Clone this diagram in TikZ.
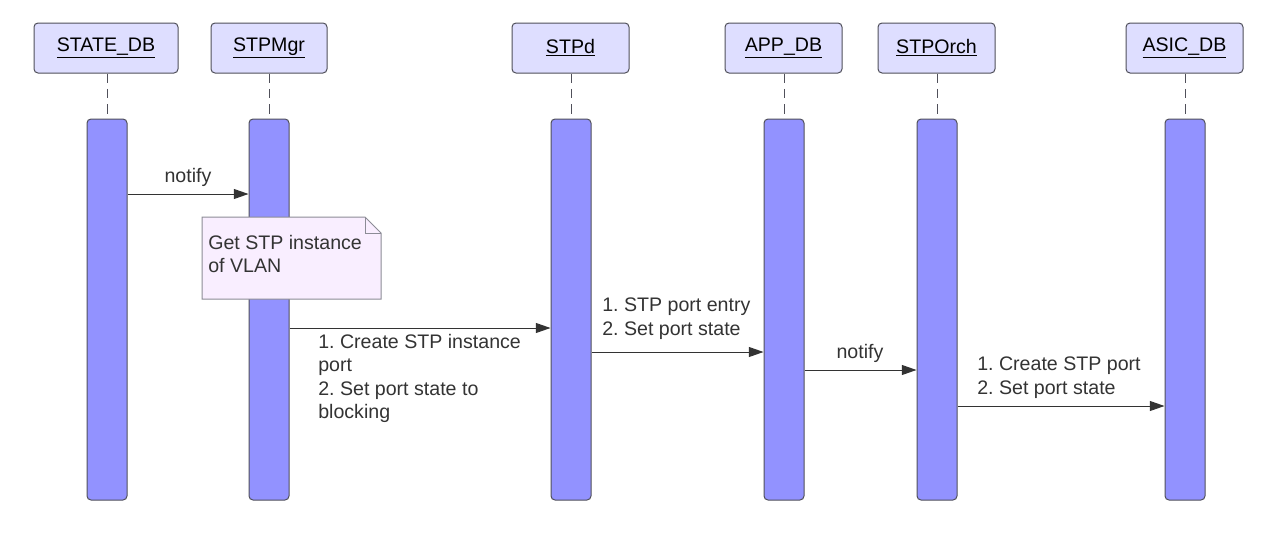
\documentclass[tikz,border=0pt]{standalone}
\usepackage{fontspec}
\setmainfont{Liberation Sans}
\usetikzlibrary{arrows.meta}
\definecolor{hdrfill}{RGB}{222,222,255}
\definecolor{barfill}{RGB}{146,146,255}
\definecolor{notefill}{RGB}{249,238,255}
\definecolor{edgec}{RGB}{80,80,90}
\definecolor{notec}{RGB}{140,140,150}
\definecolor{txtc}{RGB}{51,51,51}
\newcommand\dgfont{\fontsize{14.7pt}{17.6pt}\selectfont}
\frenchspacing
\begin{document}
\begin{tikzpicture}[x=0.75pt,y=-0.75pt,
  hdr/.style={draw=edgec, fill=hdrfill, rounded corners=3pt, minimum width=#1,
    minimum height=37.5pt, inner sep=0pt, line width=0.75pt, font=\dgfont, text=black},
  actbar/.style={draw=edgec, fill=barfill, rounded corners=3pt, minimum width=30pt,
    minimum height=285.75pt, inner sep=0pt, line width=0.75pt},
  life/.style={draw=edgec, line width=0.75pt, dash pattern=on 7pt off 4.5pt},
  msg/.style={draw=txtc, line width=0.7pt, -{Triangle[length=11pt,width=7.5pt]}},
  lbl/.style={font=\dgfont, text=txtc, inner sep=0pt},
  mlbl/.style={font=\dgfont, text=txtc, inner sep=0pt, align=left, anchor=north west},
  notebox/.style={draw=notec, fill=notefill, line width=0.75pt}
]
\useasboundingbox (0,0) rectangle (1282,543);

% headers
\node[hdr=108pt]   (hsd) at (106,48)  {\underline{STATE\_DB}};
\node[hdr=87pt]    (hmg) at (269,48)  {\underline{STPMgr}};
\node[hdr=87.75pt] (hst) at (570.5,48){\underline{STPd}};
\node[hdr=87.75pt] (hap) at (783.5,48){\underline{APP\_DB}};
\node[hdr=87.75pt] (hor) at (936.5,48){\underline{STPOrch}};
\node[hdr=87.75pt] (has) at (1184.5,48){\underline{ASIC\_DB}};

% activation bars
\node[actbar] (bsd) at (107,309.5)  {};
\node[actbar] (bmg) at (269,309.5)  {};
\node[actbar] (bst) at (571,309.5)  {};
\node[actbar] (bap) at (784,309.5)  {};
\node[actbar] (bor) at (937,309.5)  {};
\node[actbar] (bas) at (1185,309.5) {};

% lifelines
\draw[life] (hsd.south -| bsd.north) -- (bsd.north);
\draw[life] (hmg.south -| bmg.north) -- (bmg.north);
\draw[life] (hst.south -| bst.north) -- (bst.north);
\draw[life] (hap.south -| bap.north) -- (bap.north);
\draw[life] (hor.south -| bor.north) -- (bor.north);
\draw[life] (has.south -| bas.north) -- (bas.north);

% note
\coordinate (nA) at (202,217);
\coordinate (nB) at (365,217);
\coordinate (nC) at (381,233);
\coordinate (nD) at (381,299);
\coordinate (nE) at (202,299);
\coordinate (nF) at (365,233);
\draw[notebox] (nA) -- (nB) -- (nC) -- (nD) -- (nE) -- cycle;
\draw[notebox, fill=none] (nB) -- (nF) -- (nC);
\node[mlbl] (ntxt) at (208,235) {Get STP instance\\of VLAN};

% messages
\draw[msg] (bsd.east |- 0,194) -- (bmg.west |- 0,194);
\node[lbl] (m1) at (188,177) {notify};

\draw[msg] (bmg.east |- 0,328) -- (bst.west |- 0,328);
\node[mlbl] (m2) at (318,334) {1. Create STP instance\\port\\2. Set port state to\\blocking};

\draw[msg] (bst.east |- 0,352) -- (bap.west |- 0,352);
\node[mlbl] (m3) at (602,298) {1. STP port entry\\2. Set port state};

\draw[msg] (bap.east |- 0,370) -- (bor.west |- 0,370);
\node[lbl] (m4) at (860,353) {notify};

\draw[msg] (bor.east |- 0,406) -- (bas.west |- 0,406);
\node[mlbl] (m5) at (977,357) {1. Create STP port\\2. Set port state};
\end{tikzpicture}
\end{document}
